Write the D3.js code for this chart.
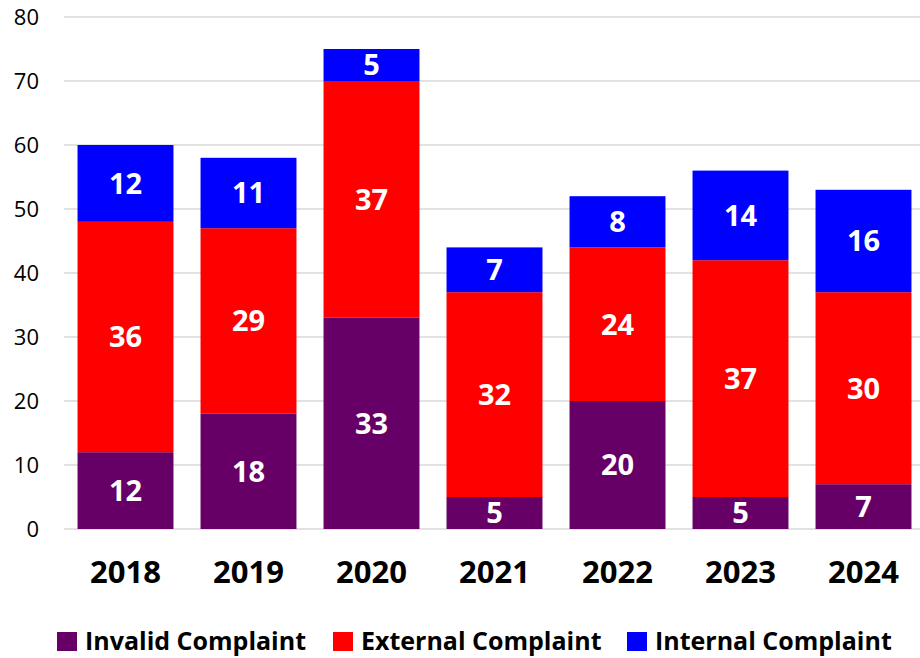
<!DOCTYPE html>
<html><head><meta charset="utf-8">
<script src="https://cdn.jsdelivr.net/npm/d3@7"></script>
<style>body{margin:0;background:#fff}svg{display:block;font-family:"Open Sans",sans-serif}</style>
</head><body>
<svg id="c" width="920" height="658"></svg>
<script>
const years = ["2018","2019","2020","2021","2022","2023","2024"];
const invalid = [12,18,33,5,20,5,7];
const external = [36,29,37,32,24,37,30];
const internal = [12,11,5,7,8,14,16];
const seriesNames = ["Invalid Complaint","External Complaint","Internal Complaint"];
const colors = ["#660066","#FF0000","#0000FF"];
const yTicks = [0,10,20,30,40,50,60,70,80];

const FONT = "'Open Sans',sans-serif";
const svg = d3.select("#c");
const x = d3.scaleBand().domain(years).range([64,925]).paddingInner(0.22).paddingOuter(0.11);
const y = d3.scaleLinear().domain([0,80]).range([529,17]);

svg.append("g").selectAll("line").data(yTicks).join("line")
  .attr("x1",64).attr("x2",920).attr("y1",d=>y(d)).attr("y2",d=>y(d))
  .attr("stroke","#d9d9d9").attr("stroke-width",1.5);

const ya = svg.append("g").attr("transform","translate(50,0)")
  .call(d3.axisLeft(y).tickValues(yTicks).tickSize(0).tickPadding(11));
ya.select(".domain").remove();
ya.selectAll("text").attr("font-size",22).attr("fill","#000").attr("font-family",FONT);

const table = years.map((yr,i)=>({year:yr,"Invalid Complaint":invalid[i],"External Complaint":external[i],"Internal Complaint":internal[i]}));
const stack = d3.stack().keys(seriesNames)(table);

const g = svg.append("g");
stack.forEach((s,si)=>{
  g.append("g").attr("fill",colors[si]).selectAll("rect").data(s).join("rect")
    .attr("x",d=>x(d.data.year)).attr("width",x.bandwidth())
    .attr("y",d=>y(d[1])).attr("height",d=>y(d[0])-y(d[1]));
  g.append("g").selectAll("text").data(s).join("text")
    .attr("x",d=>x(d.data.year)+x.bandwidth()/2)
    .attr("y",d=>(y(d[0])+y(d[1]))/2)
    .attr("dy","0.36em").attr("text-anchor","middle")
    .attr("fill","#fff").attr("font-weight","bold").attr("font-size",29).attr("font-family",FONT)
    .text(d=>d[1]-d[0]);
});

const xa = svg.append("g").attr("transform","translate(0,529)")
  .call(d3.axisBottom(x).tickSize(0).tickPadding(32));
xa.select(".domain").remove();
xa.selectAll("text").attr("font-size",31).attr("font-weight","bold").attr("fill","#000").attr("font-family",FONT);

const legX = [57,333,627];
const leg = svg.append("g");
seriesNames.forEach((n,i)=>{
  leg.append("rect").attr("x",legX[i]).attr("y",632).attr("width",20).attr("height",19).attr("fill",colors[i]);
  leg.append("text").attr("x",legX[i]+28).attr("y",650)
    .attr("font-size",25).attr("font-weight","bold").attr("fill","#000").attr("font-family",FONT).text(n);
});
</script>
</body></html>
